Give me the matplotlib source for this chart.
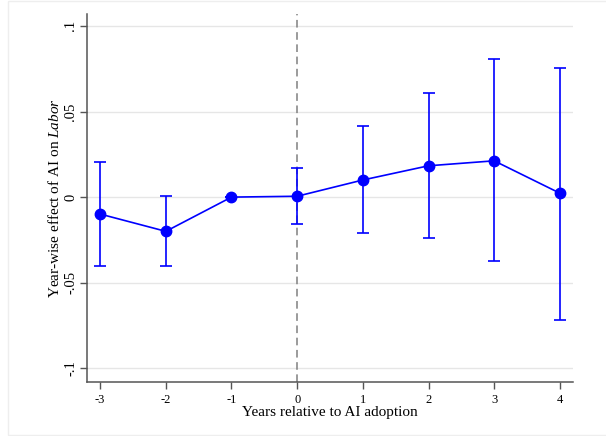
import matplotlib
import matplotlib.pyplot as plt
from matplotlib.patches import Rectangle

matplotlib.use('agg')

plt.rcParams['font.family'] = ['Liberation Serif', 'DejaVu Serif']
plt.rcParams['mathtext.fontset'] = 'custom'
plt.rcParams['mathtext.rm'] = 'Liberation Serif'
plt.rcParams['mathtext.it'] = 'Liberation Serif:italic'

# event-study estimates
years = [-3, -2, -1, 0, 1, 2, 3, 4]
coef = [-0.0099, -0.0200, 0.0000, 0.0005, 0.0100, 0.0183, 0.0212, 0.0023]
ci_low = [-0.0400, -0.0400, 0.0000, -0.0155, -0.0210, -0.0240, -0.0375, -0.0720]
ci_high = [0.0205, 0.0006, 0.0000, 0.0170, 0.0415, 0.0610, 0.0805, 0.0756]
yticks = [-0.1, -0.05, 0, 0.05, 0.1]
ytick_labels = ['-.1', '-.05', '0', '.05', '.1']

blue = '#0000ff'

fig = plt.figure(figsize=(6.06, 4.36), dpi=100)
ax = fig.add_axes([0.1436, 0.1239, 0.8019, 0.8441])

# faint outer frame like the stata graph region
fig.patches.append(Rectangle((8/606, 1/436), 1, 434/436, transform=fig.transFigure,
                             fill=False, edgecolor='#eeeeee', linewidth=1))

err_lo = [c - l for c, l in zip(coef, ci_low)]
err_hi = [h - c for c, h in zip(coef, ci_high)]
ax.errorbar(years, coef, yerr=[err_lo, err_hi], fmt='none', ecolor=blue,
            elinewidth=1.2, capsize=4, capthick=1.2, zorder=3)
ax.plot(years, coef, color=blue, linewidth=1.2, marker='o', markersize=7.5, zorder=4)

ax.axvline(0, color='#808080', linestyle=(0, (5, 3)), linewidth=1.1, zorder=2)

ax.set_xlim(-3.2, 4.2)
ax.set_ylim(-0.108, 0.107)
ax.set_xticks(years)
ax.set_xticklabels([str(y) for y in years])
ax.set_yticks(yticks)
ax.set_yticklabels(ytick_labels, rotation=90, va='center')
ax.tick_params(axis='both', length=5, width=1, color='#555555')
ax.tick_params(axis='x', pad=4, labelsize=9)
ax.tick_params(axis='y', pad=2, labelsize=10.5)

ax.grid(axis='y', color='#e6e6e6', linewidth=1)
ax.set_axisbelow(True)
for s in ['top', 'right']:
    ax.spines[s].set_visible(False)
for s in ['left', 'bottom']:
    ax.spines[s].set_color('#555555')
    ax.spines[s].set_linewidth(1.1)

ax.set_xlabel('Years relative to AI adoption', fontsize=11, labelpad=0)
ax.set_ylabel(r'Year-wise effect of AI on $\mathit{Labor}$', fontsize=11, labelpad=2)

fig.savefig('out.png', dpi=100)
